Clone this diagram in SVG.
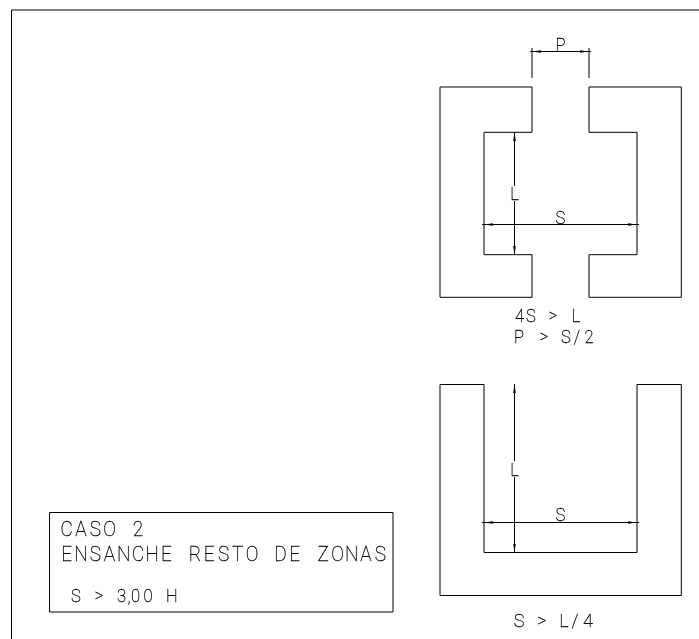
<svg xmlns="http://www.w3.org/2000/svg" width="699" height="639" viewBox="0 0 699 639">
<style>
.l{fill:none;stroke:#000;stroke-width:1}
.d{fill:none;stroke:#000;stroke-width:1}
text{font-family:"Roboto","Liberation Sans",sans-serif;font-weight:100;fill:#000;stroke:#000;stroke-width:.3;text-anchor:middle}
.a{font-size:20px}
.b{font-size:19px}
.c{font-size:17.500px}
.g{opacity:.99}
</style>
<defs>
<marker id="a" markerUnits="userSpaceOnUse" markerWidth="10" markerHeight="5" refX="9" refY="2.500" orient="auto-start-reverse"><path d="M0 1.200L9 2.500L0 3.800Z" fill="#000"/></marker>
</defs>
<rect width="699" height="639" fill="#fff"/>
<g id="frame"><path class="l" d="M699 10H11.500V639"/></g>
<g id="node-top-plan"><path class="l" d="M532 87H440V297.300H532V254.700H484V132.300H532ZM589 87H681.300V297.300H589V254.700H637V132.300H589Z"/></g>
<g id="node-bottom-plan"><path class="l" d="M440 384.500H484V552.500H637V384.500H681.300V595.500H440Z"/></g>
<g id="node-title-box"><path class="l" d="M49.500 612V512.500H393V612Z"/>
<g class="g">
<text class="a" transform="translate(0 536) scale(.95 1)" x="70.300 85.300 100.300 115.300 130.300 145.300">CASO 2</text>
<text class="a" transform="translate(0 561) scale(.95 1)" x="70.300 85.300 100.300 115.300 130.300 145.300 160.300 175.300 190.300 205.300 220.300 235.300 250.300 265.300 280.300 295.300 310.300 325.300 340.300 355.300 370.300 385.300 400.300">ENSANCHE RESTO DE ZONAS</text>
<text class="c" transform="translate(0 602) scale(.95 1)" x="80 92 104.200 116 127.900 135.800 142.600 155.800 168 181">S &gt; 3,00 H</text>
</g></g>
<g id="connectors">
<path class="d" d="M532 48V78M589 48V78"/>
<path class="d" d="M530 51.500H591"/>
<path class="d" d="M532 51.500H589" marker-start="url(#a)" marker-end="url(#a)"/>
<path class="d" d="M482 224.500H639"/>
<path class="d" d="M484 224.500H637" marker-start="url(#a)" marker-end="url(#a)"/>
<path class="d" d="M514.500 132V186" marker-start="url(#a)"/>
<path class="d" d="M514.500 201V255" marker-end="url(#a)"/>
<path class="d" d="M482 522.500H639"/>
<path class="d" d="M484 522.500H637" marker-start="url(#a)" marker-end="url(#a)"/>
<path class="d" d="M514.500 384V461" marker-start="url(#a)"/>
<path class="d" d="M514.500 477V552.500" marker-end="url(#a)"/>
</g>
<g id="labels" class="g">
<text class="c" transform="translate(0 51) scale(.95 1)" x="590">P</text>
<text class="c" transform="translate(0 224) scale(.95 1)" x="590">S</text>
<text class="c" transform="translate(0 200) scale(.95 1)" x="541.600">L</text>
<text class="c" transform="translate(0 321.500) scale(.95 1)" x="546.800 558.900 570 582.100 595 606.300">4S &gt; L</text>
<text class="c" transform="translate(0 342.500) scale(.95 1)" x="546.300 558 572.600 585 595.800 607.400 620">P &gt; S/2</text>
<text class="c" transform="translate(0 521) scale(.95 1)" x="590">S</text>
<text class="c" transform="translate(0 476) scale(.95 1)" x="541.600">L</text>
<text class="b" transform="translate(0 626.500) scale(.95 1)" x="546.300 558 570.500 582 593.700 605.300 618.900">S &gt; L/4</text>
</g>
</svg>
